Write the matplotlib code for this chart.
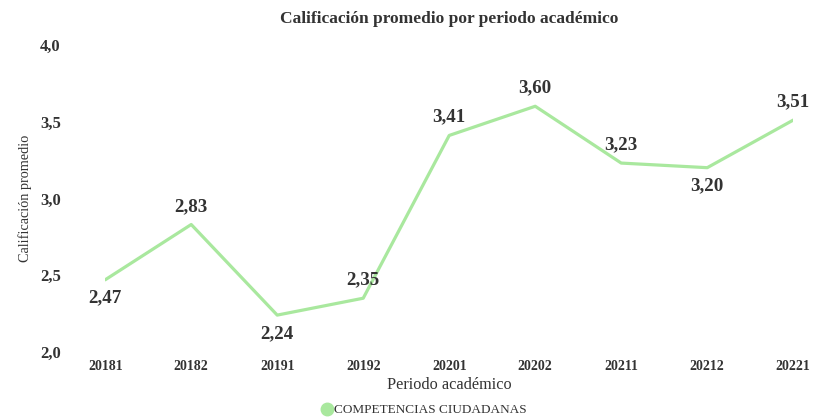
import matplotlib
matplotlib.use("Agg")
import matplotlib.pyplot as plt

plt.rcParams['font.family'] = ['Liberation Serif', 'DejaVu Serif']

# data
periodos = ['20181', '20182', '20191', '20192', '20201', '20202', '20211', '20212', '20221']
promedios = [2.47, 2.83, 2.24, 2.35, 3.41, 3.60, 3.23, 3.20, 3.51]
# label above (+1) or below (-1) the point
posicion = [-1, 1, -1, 1, 1, 1, 1, -1, 1]
yticks = [2.0, 2.5, 3.0, 3.5, 4.0]

verde = '#a9e89e'
gris = '#333333'

fig = plt.figure(figsize=(8.22, 4.19), dpi=100)
ax = fig.add_axes([0.128, 0.160, 0.837, 0.733])

x = list(range(len(periodos)))
ax.plot(x, promedios, color=verde, linewidth=2.3, solid_capstyle='round',
        label='COMPETENCIAS CIUDADANAS')

for xi, v, p in zip(x, promedios, posicion):
    ax.annotate(f'{v:.2f}'.replace('.', ','), (xi, v), xytext=(0, 7 * p),
                textcoords='offset points', ha='center',
                va='bottom' if p > 0 else 'top',
                fontsize=13.7, fontweight='bold', color=gris)

ax.set_xlim(0, len(periodos) - 1)
ax.set_ylim(2.0, 4.0)
ax.set_xticks(x)
ax.set_xticklabels(periodos, fontsize=10, fontweight='bold', color=gris)
ax.set_yticks(yticks)
ax.set_yticklabels([f'{t:.1f}'.replace('.', ',') for t in yticks],
                   fontsize=12, fontweight='bold', color=gris)
ax.tick_params(axis='x', length=0, pad=6)
ax.tick_params(axis='y', length=0, pad=32)
for s in ax.spines.values():
    s.set_visible(False)

ax.set_xlabel('Periodo académico', fontsize=11.7, color=gris, labelpad=3)
ax.set_ylabel('Calificación promedio', fontsize=10.3, color=gris, labelpad=6)
ax.set_title('Calificación promedio por periodo académico', fontsize=12.5,
             fontweight='bold', color=gris, pad=16)

leg = fig.legend(handles=[plt.Line2D([0], [0], marker='o', color='none',
                                     markerfacecolor=verde, markeredgecolor=verde,
                                     markersize=9)],
                 labels=['COMPETENCIAS CIUDADANAS'], loc='lower center',
                 bbox_to_anchor=(0.515, -0.022), frameon=False, fontsize=9.5,
                 handletextpad=0.0, handlelength=1.0)
for t in leg.get_texts():
    t.set_color(gris)

fig.savefig('out.png', dpi=100)
